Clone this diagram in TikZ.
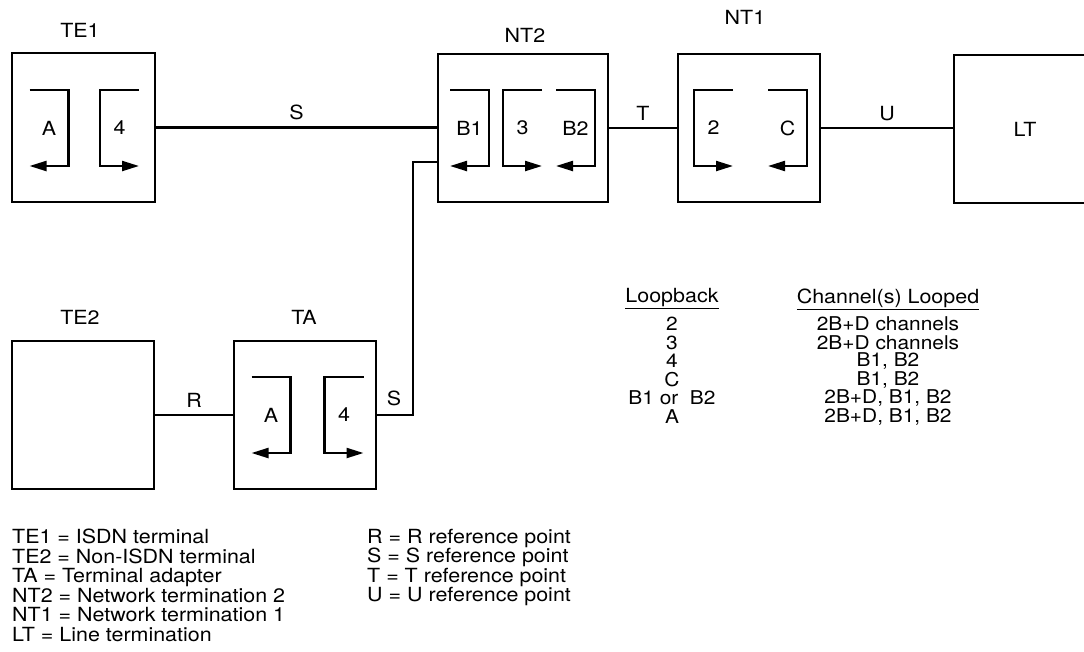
\documentclass[tikz,border=0pt]{standalone}
\usepackage{fontspec}
\setmainfont{TeX Gyre Heros}[FakeStretch=1.1]
\usetikzlibrary{arrows.meta,calc,positioning}

\tikzset{
  unit/.style={draw,line width=2.6pt,inner sep=0pt},
  wire/.style={line width=2.2pt},
  lpline/.style={line width=2.2pt,-{Triangle[length=17pt,width=10pt]}},
  tabrow/.style={inner sep=0pt,font=\fontsize{19}{19}\selectfont},
  % loop with the arrow back to the left
  pics/loopl/.style={code={
    \draw[lpline] (-19.5,-38) -- (19.5,-38) -- (19.5,38) -- (-19.5,38);
    \node at (0,0) {#1};}},
  % loop with the arrow out to the right
  pics/loopr/.style={code={
    \draw[lpline] (19.5,-38) -- (-19.5,-38) -- (-19.5,38) -- (19.5,38);
    \node at (0,0) {#1};}},
}

\begin{document}
\begin{tikzpicture}[x=1pt,y=-1pt,font=\fontsize{19.5}{19.5}\selectfont]
  \useasboundingbox (0,0) rectangle (1084,651);

  % units
  \node[unit,minimum width=143pt,minimum height=149pt] (TE1) at (83.5,127.5) {};
  \node[unit,minimum width=170pt,minimum height=148pt] (NT2) at (523,128) {};
  \node[unit,minimum width=142pt,minimum height=148pt] (NT1) at (749,128) {};
  \node[unit,minimum width=142pt,minimum height=148pt] (LT) at (1025,129) {LT};
  \node[unit,minimum width=142pt,minimum height=148pt] (TE2) at (83,415) {};
  \node[unit,minimum width=142pt,minimum height=148pt] (TA) at (305,415) {};

  \node (TE1name) at (80,30) {TE1};
  \node (NT2name) at (525,35) {NT2};
  \node (NT1name) at (745,17) {NT1};
  \node (TE2name) at (80,317) {TE2};
  \node (TAname) at (304,317) {TA};

  % loopbacks
  \pic at (49,128) {loopl=A};
  \pic at (119.5,128) {loopr=4};
  \pic at (469.5,128) {loopl=B1};
  \pic at (522.5,128) {loopr=3};
  \pic at (575.5,128) {loopl=B2};
  \pic at (713.5,128) {loopr=2};
  \pic at (787.5,128) {loopl=C};
  \pic at (271,415) {loopl=A};
  \pic at (344,415) {loopr=4};

  % reference points
  \draw[wire] (TE1.east) -- (TE1.east -| NT2.west) node[midway,above=3pt] {S};
  \draw[wire] (NT2.east) -- (NT1.west) node[midway,above=3pt] {T};
  \draw[wire] (NT1.east) -- (NT1.east -| LT.west) node[midway,above=3pt] {U};
  \draw[wire] (TE2.east) -- (TE2.east -| TA.west) node[midway,above=3pt] {R};
  \coordinate (Sbend) at (413,162);
  \draw[wire] (TA.east) -| (Sbend) -- (Sbend -| NT2.west);
  \node (Sname) at (394,398) {S};

  % loopback table
  \node (loopshead) at (672,299) {\underline{Loopback}};
  \node (chanshead) at (888,299) {\underline{Channel(s) Looped}};
  \foreach \lb/\ch [count=\i] in {2/{2B+D channels},3/{2B+D channels},4/{B1, B2},
      C/{B1, B2},{B1 or\ \ B2}/{2B+D, B1, B2},A/{2B+D, B1, B2}} {
    \node[tabrow] (lb\i) at (672,305.5+18.5*\i) {\lb};
    \node[tabrow] (ch\i) at (888,305.5+18.5*\i) {\ch};
  }

  % legend
  \node[align=left,anchor=north west,inner sep=0pt] (legunits) at (12,529)
    {TE1 = ISDN terminal\\TE2 = Non-ISDN terminal\\TA = Terminal adapter\\
     NT2 = Network termination 2\\NT1 = Network termination 1\\LT = Line termination};
  \node[align=left,anchor=north west,inner sep=0pt] (legpoints) at (367,529)
    {R = R reference point\\S = S reference point\\T = T reference point\\U = U reference point};
\end{tikzpicture}
\end{document}
